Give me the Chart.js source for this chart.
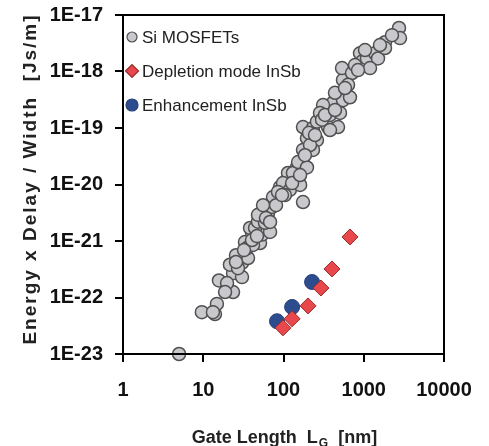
<!DOCTYPE html>
<html>
<head>
<meta charset="utf-8">
<script src="https://cdn.jsdelivr.net/npm/chart.js@4.4.1/dist/chart.umd.min.js"></script>
<style>
  body { margin: 0; background: #fff; }
  canvas { display: block; }
</style>
</head>
<body>
<canvas id="myChart" width="489" height="446"></canvas>
<script>
const xTicks = [1, 10, 100, 1000, 10000];
const xTickLabels = ['1', '10', '100', '1000', '10000'];
const yTicks = [1e-23, 1e-22, 1e-21, 1e-20, 1e-19, 1e-18, 1e-17];
const yTickLabels = ['1E-23', '1E-22', '1E-21', '1E-20', '1E-19', '1E-18', '1E-17'];

const seriesNames = ['Si MOSFETs', 'Depletion mode InSb', 'Enhancement InSb'];

// Si MOSFETs: gate length [nm], energy x delay / width [Js/m]
const siLength = [5, 9.6, 14.0, 14.8, 13.2, 15.7, 23.5, 23.5, 19.8, 30.4,
  30.4, 28.7, 36.1, 33.1, 40.5, 51, 54, 68, 38.3, 35.1,
  44.2, 48.1, 58.8, 64.1, 71.9, 78.3, 90.4, 110.6, 113.8, 139,
  175, 147, 175, 98.6, 131, 152, 175, 196, 175, 233,
  261, 359, 478, 380, 506, 414, 551, 438, 674, 311,
  551, 536, 714, 898, 951, 1097, 1380, 1506, 1841, 1841,
  2749, 2830, 285, 196, 74, 380, 261, 233, 21.5, 25.6,
  48.1, 55.6, 85.4, 120, 214, 302, 637, 778, 1197, 2249,
  27.1, 41.7, 104, 161, 18.7, 25.6, 32.2, 40.5, 46.7, 60.5,
  68, 80.7, 95.8, 128, 161, 185, 208, 247, 329, 438,
  584, 848, 1037, 1592];
const siEdw = [1.0e-23, 5.5e-23, 5.1e-23, 7.7e-23, 5.5e-23, 2.0e-22, 2.7e-22, 1.25e-22, 1.8e-22, 2.3e-22,
  4.1e-22, 5.2e-22, 5.0e-22, 9.6e-22, 1.4e-21, 9.2e-22, 1.3e-21, 1.45e-21, 1.7e-21, 7.5e-22,
  1.7e-21, 2.2e-21, 2.1e-21, 3.1e-21, 4.0e-21, 5.8e-21, 9.0e-21, 1.2e-20, 1.6e-20, 1.6e-20,
  4.9e-21, 2.0e-20, 2.4e-20, 1.06e-20, 1.6e-20, 2.5e-20, 4.1e-20, 6.6e-20, 1.04e-19, 1.0e-19,
  1.3e-19, 1.04e-19, 1.04e-19, 1.7e-19, 1.85e-19, 2.8e-19, 3.1e-19, 4.2e-19, 3.5e-19, 2.55e-19,
  7.1e-19, 1.15e-18, 9.4e-19, 2.1e-18, 1.5e-18, 1.7e-18, 2.1e-18, 1.7e-18, 3.3e-18, 2.6e-18,
  5.9e-18, 3.9e-18, 1.85e-19, 2.0e-20, 6.0e-21, 9.2e-20, 6.1e-20, 4.1e-20, 3.8e-22, 5.6e-22,
  2.9e-21, 4.3e-21, 7.4e-21, 8.0e-21, 5.0e-20, 1.4e-19, 5.8e-19, 1.3e-18, 1.15e-18, 4.4e-18,
  3.3e-22, 8.5e-22, 6.5e-21, 9.8e-21, 1.25e-22, 4.25e-22, 6.9e-22, 1.04e-21, 1.22e-21, 2.55e-21,
  2.17e-21, 4.3e-21, 6.5e-21, 1.06e-20, 1.47e-20, 3.3e-20, 8.2e-20, 7.5e-20, 1.7e-19, 2.08e-19,
  5.1e-19, 1.06e-18, 2.4e-18, 2.94e-18];

const depLength = [674, 402, 293, 202, 128, 98.6];
const depEdw = [1.18e-21, 3.2e-22, 1.47e-22, 7.1e-23, 4.2e-23, 2.9e-23];

const enhLength = [227, 128, 83];
const enhEdw = [1.88e-22, 6.8e-23, 3.8e-23];

const ctx = document.getElementById('myChart').getContext('2d');

function toPoints(xs, ys) {
  return xs.map((x, i) => ({ x: x, y: ys[i] }));
}

const frameAndText = {
  id: 'frameAndText',
  afterDraw(chart) {
    const c = chart.ctx;
    const a = chart.chartArea;
    c.save();
    c.strokeStyle = '#000';
    c.lineWidth = 2;
    c.strokeRect(a.left, a.top, a.right - a.left, a.bottom - a.top);

    // legend inside the plot
    chart.data.datasets.forEach((ds, i) => {
      const y = a.top + 22 + i * 34;
      const x = a.left + 9;
      c.fillStyle = ds.backgroundColor;
      c.strokeStyle = ds.borderColor;
      c.lineWidth = 1.2;
      Chart.helpers.drawPoint(c, {
        pointStyle: ds.pointStyle,
        radius: ds.legendRadius,
        borderWidth: 1.2,
        rotation: 0
      }, x, y);
      c.fillStyle = '#222';
      c.font = '17px "Liberation Sans", Arial, sans-serif';
      c.textBaseline = 'middle';
      c.textAlign = 'left';
      c.fillText(ds.label, a.left + 19, y + 1);
    });

    // y axis title
    c.save();
    c.translate(31, 179);
    c.rotate(-Math.PI / 2);
    c.fillStyle = '#222';
    c.font = 'bold 19px "Liberation Sans", Arial, sans-serif';
    c.letterSpacing = '2px';
    c.textAlign = 'center';
    c.textBaseline = 'middle';
    c.fillText('Energy x Delay / Width  [Js/m]', 0, 0);
    c.restore();

    // x axis title with subscript
    c.fillStyle = '#222';
    c.textBaseline = 'alphabetic';
    c.textAlign = 'left';
    const base = 443;
    const big = 'bold 18px "Liberation Sans", Arial, sans-serif';
    const small = 'bold 12px "Liberation Sans", Arial, sans-serif';
    const p1 = 'Gate Length  L';
    const p2 = 'G';
    const p3 = '  [nm]';
    c.font = big;
    const w1 = c.measureText(p1).width;
    const w3 = c.measureText(p3).width;
    c.font = small;
    const w2 = c.measureText(p2).width;
    let x0 = 284 - (w1 + w2 + w3) / 2;
    c.font = big;
    c.fillText(p1, x0, base);
    c.font = small;
    c.fillText(p2, x0 + w1 + 1, base + 4);
    c.font = big;
    c.fillText(p3, x0 + w1 + w2 + 1, base);
    c.restore();
  }
};

const chart = new Chart(ctx, {
  type: 'scatter',
  data: {
    datasets: [
      {
        label: seriesNames[0],
        data: toPoints(siLength, siEdw),
        pointStyle: 'circle',
        pointRadius: 6.5,
        legendRadius: 5,
        backgroundColor: '#c9c9cd',
        borderColor: '#505050',
        borderWidth: 1.5,
        clip: false
      },
      {
        label: seriesNames[1],
        data: toPoints(depLength, depEdw),
        pointStyle: 'rectRot',
        pointRadius: 8,
        legendRadius: 6.5,
        backgroundColor: '#e8474b',
        borderColor: '#9a2a2a',
        borderWidth: 1,
        clip: false
      },
      {
        label: seriesNames[2],
        data: toPoints(enhLength, enhEdw),
        pointStyle: 'circle',
        pointRadius: 7.5,
        legendRadius: 6,
        backgroundColor: '#2d4c8e',
        borderColor: '#26417a',
        borderWidth: 1,
        clip: false
      }
    ]
  },
  options: {
    responsive: false,
    animation: false,
    events: [],
    layout: { padding: { left: 0, right: 45, top: 15, bottom: 0 } },
    plugins: {
      legend: { display: false },
      tooltip: { enabled: false }
    },
    scales: {
      x: {
        type: 'logarithmic',
        min: 1,
        max: 10000,
        afterBuildTicks: (s) => { s.ticks = xTicks.map(v => ({ value: v })); },
        afterFit: (s) => { s.height = 92; s.paddingLeft = 0; s.paddingRight = 0; },
        border: { display: true, color: '#000', width: 2 },
        grid: { drawOnChartArea: false, drawTicks: true, tickLength: 8, color: '#000', lineWidth: 2 },
        ticks: {
          autoSkip: false,
          maxRotation: 0,
          padding: 16,
          color: '#111',
          font: { family: '"Liberation Sans", Arial, sans-serif', size: 20, weight: 'bold' },
          callback: (v) => xTickLabels[xTicks.indexOf(v)]
        }
      },
      y: {
        type: 'logarithmic',
        min: 1e-23,
        max: 1e-17,
        afterBuildTicks: (s) => { s.ticks = yTicks.map(v => ({ value: v })); },
        afterFit: (s) => { s.width = 123; s.paddingTop = 0; s.paddingBottom = 0; },
        border: { display: true, color: '#000', width: 2 },
        grid: { drawOnChartArea: false, drawTicks: true, tickLength: 8, color: '#000', lineWidth: 2 },
        ticks: {
          autoSkip: false,
          padding: 12,
          color: '#111',
          font: { family: '"Liberation Sans", Arial, sans-serif', size: 20, weight: 'bold' },
          callback: (v) => {
            const i = yTicks.findIndex(t => Math.abs(Math.log10(t) - Math.log10(v)) < 1e-6);
            return i >= 0 ? yTickLabels[i] : '';
          }
        }
      }
    }
  },
  plugins: [frameAndText]
});
</script>
</body>
</html>
